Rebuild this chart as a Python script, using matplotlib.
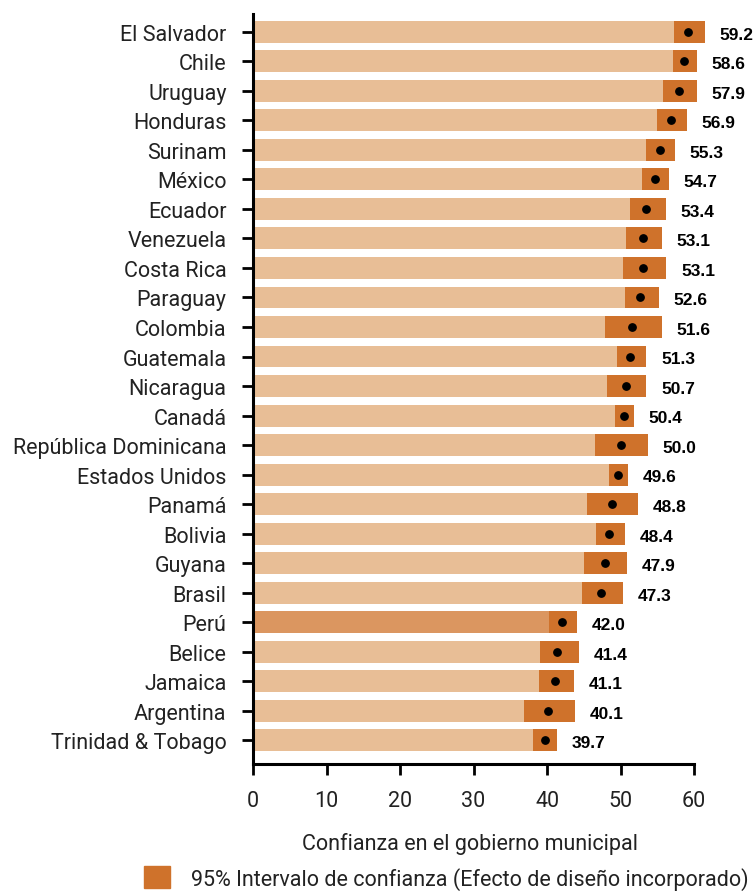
import matplotlib.pyplot as plt
from matplotlib.patches import Patch

countries = ['El Salvador', 'Chile', 'Uruguay', 'Honduras', 'Surinam', 'México', 'Ecuador',
             'Venezuela', 'Costa Rica', 'Paraguay', 'Colombia', 'Guatemala', 'Nicaragua',
             'Canadá', 'República Dominicana', 'Estados Unidos', 'Panamá', 'Bolivia',
             'Guyana', 'Brasil', 'Perú', 'Belice', 'Jamaica', 'Argentina', 'Trinidad & Tobago']
means = [59.2, 58.6, 57.9, 56.9, 55.3, 54.7, 53.4, 53.1, 53.1, 52.6, 51.6, 51.3, 50.7,
         50.4, 50.0, 49.6, 48.8, 48.4, 47.9, 47.3, 42.0, 41.4, 41.1, 40.1, 39.7]
ci_low = [57.3, 57.1, 55.8, 55.0, 53.5, 52.9, 51.3, 50.7, 50.3, 50.6, 47.9, 49.5, 48.2,
          49.3, 46.5, 48.4, 45.4, 46.7, 45.0, 44.8, 40.3, 39.0, 38.9, 36.9, 38.1]
ci_high = [61.5, 60.4, 60.4, 59.0, 57.4, 56.6, 56.1, 55.6, 56.2, 55.2, 55.6, 53.5, 53.5,
           51.8, 53.7, 51.0, 52.4, 50.6, 50.9, 50.3, 44.1, 44.4, 43.7, 43.8, 41.4]
highlight = 'Perú'

bar_col = '#E8BE96'
hi_col = '#DB9660'
ci_col = '#CF722B'
txt_font = {'family': 'Roboto', 'size': 15.5, 'color': '#222222'}

fig = plt.figure(figsize=(7.53, 8.95), dpi=100)
ax = fig.add_axes([253 / 753, 1 - 765 / 895, 500 / 753, 750 / 895])

y = list(range(len(countries)))
colors = [hi_col if c == highlight else bar_col for c in countries]
h = 0.74
ax.barh(y, means, height=h, color=colors, zorder=1)
ax.barh(y, [hi - lo for lo, hi in zip(ci_low, ci_high)], left=ci_low, height=h,
        color=ci_col, zorder=2)
ax.scatter(means, y, s=28, color='black', zorder=3)
for yi, m, hi in zip(y, means, ci_high):
    ax.text(hi + 2.0, yi + 0.08, f'{m:.1f}', ha='left', va='center', fontsize=12.5,
            fontweight='bold', family='Liberation Sans')

ax.set_xlim(0, 68)
ax.set_ylim(len(countries) - 0.2, -0.6)
ax.set_xticks(range(0, 61, 10))
ax.set_yticks(y)
ax.set_yticklabels(countries, fontdict=txt_font)
ax.set_xticklabels([str(v) for v in range(0, 61, 10)], fontdict=txt_font)
ax.tick_params(axis='y', length=8, width=2, pad=11)
ax.tick_params(axis='x', length=8, width=2, pad=11)
for s in ['top', 'right']:
    ax.spines[s].set_visible(False)
ax.spines['bottom'].set_bounds(0, 60)
ax.spines['bottom'].set_linewidth(2.2)
ax.spines['left'].set_linewidth(2.2)
ax.set_xlabel('Confianza en el gobierno municipal', fontdict=txt_font, labelpad=15)
ax.xaxis.label.set_x(29.5 / 68)

fig.legend(handles=[Patch(color=ci_col)],
           labels=['95% Intervalo de confianza (Efecto de diseño incorporado)'],
           loc='lower right', bbox_to_anchor=(1.0, 0.0), frameon=False,
           prop={'family': 'Roboto', 'size': 15.5}, labelcolor='#222222',
           handlelength=1.2, handleheight=1.2, borderaxespad=0.0, borderpad=0.2,
           handletextpad=1.0)

fig.savefig('out.png', dpi=100)
